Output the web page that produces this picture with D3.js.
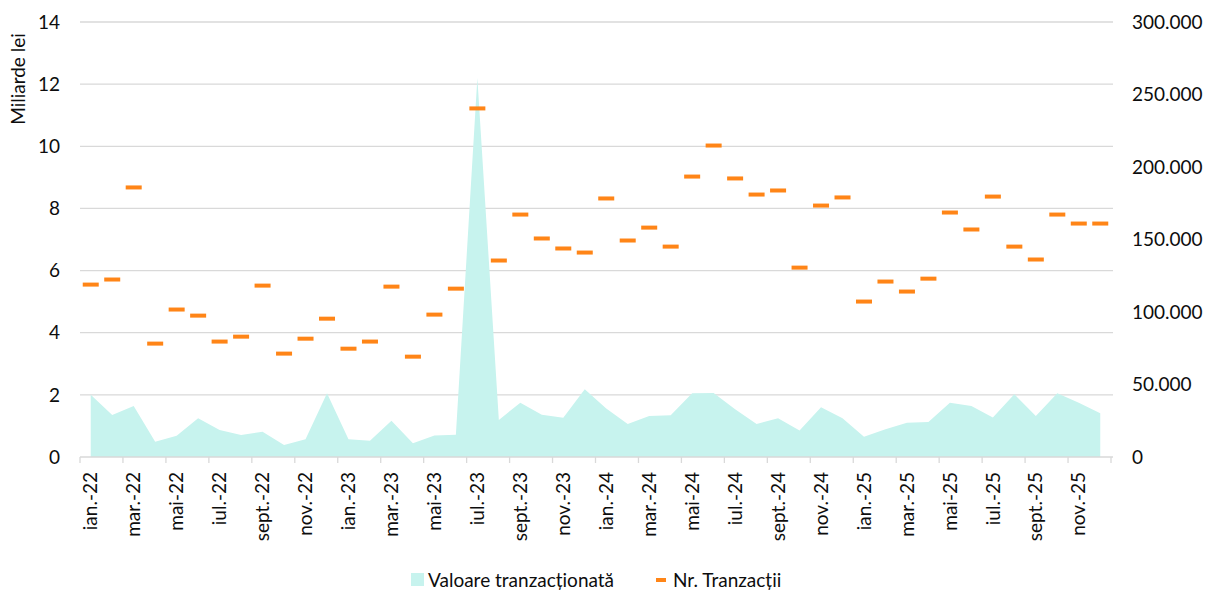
<!DOCTYPE html>
<html>
<head>
<meta charset="utf-8">
<script src="https://cdn.jsdelivr.net/npm/d3@7"></script>
<style>
  body { margin: 0; background: #fff; }
  svg { display: block; font-family: Lato, "Open Sans", sans-serif; }
</style>
</head>
<body>
<svg id="chart" width="1205" height="590"></svg>
<script>
// month labels (Romanian), jan 2022 .. dec 2025
const monthNames = ['ian.', 'feb.', 'mar.', 'apr.', 'mai', 'iun.', 'iul.', 'aug.', 'sept.', 'oct.', 'nov.', 'dec.'];
const years = ['22', '23', '24', '25'];
const months = [];
years.forEach(y => monthNames.forEach(m => months.push(m + '-' + y)));

// traded value, billions lei (left axis)
const valoare = [
  2.0, 1.35, 1.64, 0.49, 0.68, 1.25, 0.87, 0.71, 0.81, 0.39, 0.57, 2.05,
  0.57, 0.52, 1.17, 0.44, 0.69, 0.72, 12.2, 1.19, 1.75, 1.36, 1.26, 2.18,
  1.56, 1.06, 1.32, 1.34, 2.05, 2.06, 1.54, 1.06, 1.25, 0.85, 1.60, 1.25,
  0.65, 0.89, 1.10, 1.13, 1.75, 1.64, 1.27, 2.02, 1.32, 2.05, 1.75, 1.41
];

// number of transactions (right axis)
const nrTranzactii = [
  118900, 122400, 185900, 78200, 101700, 97500, 79600, 83000, 118200, 71300, 81600, 95400,
  74700, 79600, 117500, 69200, 98200, 116100, 240400, 135500, 167200, 150700, 143800, 141000,
  178300, 149300, 158200, 145100, 193400, 214800, 192100, 181000, 183800, 130600, 173400, 179000,
  107200, 121000, 114100, 123000, 168600, 156900, 179600, 145100, 136200, 167200, 161000, 161000
];

const leftTicks = [0, 2, 4, 6, 8, 10, 12, 14];
const rightTicks = [0, 50000, 100000, 150000, 200000, 250000, 300000];

const areaColor = '#c7f3ee';
const dashColor = '#ff8517';
const gridColor = '#d9d9d9';
const textColor = '#0d0d0d';
const fontSize = 19;

const margin = { top: 22, right: 94, bottom: 133, left: 80 };
const width = 1205, height = 590;
const plotW = width - margin.left - margin.right;
const plotH = height - margin.top - margin.bottom;

const svg = d3.select('#chart');

const x = d3.scaleBand().domain(months).range([margin.left, margin.left + plotW]).padding(0);
const yL = d3.scaleLinear().domain([0, 14]).range([margin.top + plotH, margin.top]);
const yR = d3.scaleLinear().domain([0, 300000]).range([margin.top + plotH, margin.top]);
const cx = m => x(m) + x.bandwidth() / 2;

// gridlines
svg.append('g').selectAll('line').data(leftTicks.filter(d => d > 0))
  .enter().append('line')
    .attr('x1', margin.left).attr('x2', margin.left + plotW + 2)
    .attr('y1', d => yL(d)).attr('y2', d => yL(d))
    .attr('stroke', gridColor).attr('stroke-width', 1.3);

// area series
const area = d3.area()
  .x((d, i) => cx(months[i]))
  .y0(yL(0))
  .y1(d => yL(d));

svg.append('path')
  .datum(valoare)
  .attr('d', area)
  .attr('fill', areaColor);

// x axis line and ticks every two months
const xAxisG = svg.append('g');
xAxisG.append('line')
  .attr('x1', margin.left).attr('x2', margin.left + plotW + 2)
  .attr('y1', yL(0)).attr('y2', yL(0))
  .attr('stroke', gridColor).attr('stroke-width', 1.3);

const tickMonths = months.filter((m, i) => i % 2 === 0);
xAxisG.selectAll('line.tick').data(tickMonths.concat(['end']))
  .enter().append('line')
    .attr('class', 'tick')
    .attr('x1', d => d === 'end' ? margin.left + plotW : x(d))
    .attr('x2', d => d === 'end' ? margin.left + plotW : x(d))
    .attr('y1', yL(0)).attr('y2', yL(0) + 6)
    .attr('stroke', gridColor).attr('stroke-width', 1.3);

xAxisG.selectAll('text').data(tickMonths)
  .enter().append('text')
    .attr('transform', d => `translate(${cx(d)},${yL(0) + 15}) rotate(-90)`)
    .attr('text-anchor', 'end')
    .attr('dy', '0.35em')
    .attr('font-size', fontSize)
    .attr('fill', textColor)
    .text(d => d);

// left axis labels
svg.append('g').selectAll('text').data(leftTicks)
  .enter().append('text')
    .attr('x', 60)
    .attr('y', d => yL(d))
    .attr('dy', '0.35em')
    .attr('text-anchor', 'end')
    .attr('font-size', fontSize)
    .attr('fill', textColor)
    .text(d => d);

// right axis labels
const fmt = d => d3.format(',')(d).replace(/,/g, '.');
svg.append('g').selectAll('text').data(rightTicks)
  .enter().append('text')
    .attr('x', 1132)
    .attr('y', d => yR(d))
    .attr('dy', '0.35em')
    .attr('text-anchor', 'start')
    .attr('font-size', fontSize)
    .attr('fill', textColor)
    .text(fmt);

// y title
svg.append('text')
  .attr('transform', 'translate(18,79) rotate(-90)')
  .attr('text-anchor', 'middle')
  .attr('dy', '0.35em')
  .attr('font-size', fontSize)
  .attr('fill', textColor)
  .text('Miliarde lei');

// transaction dashes
svg.append('g').selectAll('rect').data(nrTranzactii)
  .enter().append('rect')
    .attr('x', (d, i) => cx(months[i]) - 8)
    .attr('y', d => yR(d) - 2)
    .attr('width', 16)
    .attr('height', 4)
    .attr('fill', dashColor);

// legend
const legend = svg.append('g');
legend.append('rect')
  .attr('x', 411).attr('y', 573).attr('width', 13).attr('height', 13)
  .attr('fill', areaColor);
legend.append('text')
  .attr('x', 428).attr('y', 580).attr('dy', '0.35em')
  .attr('font-size', fontSize).attr('fill', textColor)
  .text('Valoare tranzacționată');
legend.append('rect')
  .attr('x', 656).attr('y', 578).attr('width', 10).attr('height', 4)
  .attr('fill', dashColor);
legend.append('text')
  .attr('x', 673).attr('y', 580).attr('dy', '0.35em')
  .attr('font-size', fontSize).attr('fill', textColor)
  .text('Nr. Tranzacții');
</script>
</body>
</html>
